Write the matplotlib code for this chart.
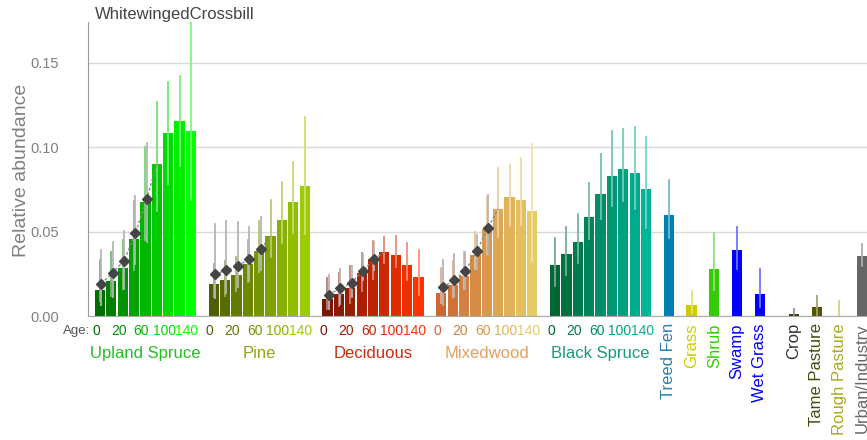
import matplotlib
matplotlib.use("Agg")
import matplotlib.pyplot as plt
import matplotlib.colors as mcolors
import numpy as np

plt.rcParams['font.family'] = ['Liberation Sans', 'DejaVu Sans']

######
# data
######
title = "WhitewingedCrossbill"
age_labels = ['0', '20', '60', '100', '140']
age_idx = [0, 2, 4, 6, 8]

groups = ['Upland Spruce', 'Pine', 'Deciduous', 'Mixedwood', 'Black Spruce']

upland = [0.0154, 0.0209, 0.0285, 0.0456, 0.0674, 0.0903, 0.1085, 0.1157, 0.1095]
upland_lo = [0.009, 0.012, 0.016, 0.027, 0.045, 0.062, 0.078, 0.089, 0.069]
upland_hi = [0.033, 0.038, 0.045, 0.068, 0.100, 0.127, 0.139, 0.142, 0.180]

pine = [0.0188, 0.0213, 0.0245, 0.0308, 0.0384, 0.0474, 0.0569, 0.0674, 0.0771]
pine_lo = [0.011, 0.012, 0.015, 0.020, 0.026, 0.035, 0.043, 0.049, 0.0486]
pine_hi = [0.0307, 0.0326, 0.035, 0.045, 0.0563, 0.0688, 0.0797, 0.0915, 0.1178]

decid = [0.0099, 0.0132, 0.0168, 0.0253, 0.0336, 0.0378, 0.036, 0.0304, 0.0229]
decid_lo = [0.004, 0.006, 0.008, 0.015, 0.022, 0.0312, 0.029, 0.0213, 0.0125]
decid_hi = [0.0223, 0.0253, 0.0298, 0.0372, 0.0445, 0.0467, 0.0474, 0.043, 0.039]

mixed = [0.0134, 0.0186, 0.0239, 0.0362, 0.0516, 0.0635, 0.0706, 0.069, 0.0621]
mixed_lo = [0.0075, 0.011, 0.016, 0.0277, 0.037, 0.0467, 0.0534, 0.054, 0.0328]
mixed_hi = [0.0283, 0.0326, 0.038, 0.050, 0.0708, 0.088, 0.0898, 0.0935, 0.102]

bspruce = [0.030, 0.0366, 0.0439, 0.0587, 0.0724, 0.0828, 0.0872, 0.0846, 0.0755]
bspruce_lo = [0.0178, 0.0243, 0.0312, 0.0455, 0.0573, 0.0652, 0.068, 0.0633, 0.052]
bspruce_hi = [0.0465, 0.0526, 0.0605, 0.079, 0.096, 0.1095, 0.1107, 0.1119, 0.106]

# diamonds (young stands), first 5 ages of the 4 first groups
upland_d = [0.0192, 0.0257, 0.0326, 0.0492, 0.0694]
upland_d_lo = [0.0065, 0.011, 0.016, 0.031, 0.044]
upland_d_hi = [0.039, 0.044, 0.0506, 0.071, 0.1026]
pine_d = [0.0247, 0.0273, 0.0297, 0.0338, 0.0395]
pine_d_lo = [0.0105, 0.0138, 0.017, 0.021, 0.027]
pine_d_hi = [0.0544, 0.0563, 0.0556, 0.053, 0.0585]
decid_d = [0.0126, 0.0164, 0.0198, 0.0269, 0.0338]
decid_d_lo = [0.004, 0.007, 0.011, 0.0212, 0.027]
decid_d_hi = [0.0243, 0.0279, 0.0297, 0.037, 0.044]
mixed_d = [0.017, 0.0213, 0.0267, 0.0385, 0.0524]
mixed_d_lo = [0.0067, 0.011, 0.016, 0.0277, 0.036]
mixed_d_hi = [0.0332, 0.0368, 0.0381, 0.048, 0.0718]

others = ['Treed Fen', 'Grass', 'Shrub', 'Swamp', 'Wet Grass', 'Crop',
          'Tame Pasture', 'Rough Pasture', 'Urban/Industry']
others_val = [0.0599, 0.0063, 0.0279, 0.039, 0.0129, 0.0012, 0.0053, 0.0, 0.0356]
others_lo = [0.0465, 0.0016, 0.0154, 0.028, 0.0055, 0.0, 0.0, 0.0, 0.0297]
others_hi = [0.0807, 0.0148, 0.049, 0.053, 0.0277, 0.004, 0.012, 0.0089, 0.0427]

######
# style
######
grad = [('#006e00', '#00ff00'), ('#4f5f00', '#9acc00'), ('#7a1500', '#ff3300'),
        ('#cc6633', '#e6cc66'), ('#006633', '#00b49a')]
group_lab_col = ['#22c022', '#8aaa10', '#cc2a10', '#e0a060', '#1a9a7a']
others_col = ['#0080b0', '#cccc00', '#33cc00', '#0000ff', '#0000ff', '#3a3a20',
              '#555500', '#aaaa22', '#666666']
others_lab_col = ['#2a80b0', '#cccc00', '#33cc00', '#0000ff', '#0000ff', '#333333',
                  '#4a4a10', '#aaaa22', '#666666']
others_pos = [50, 52, 54, 56, 58, 61, 63, 65, 67]


def lighter(c, f=0.45):
    c = np.array(mcolors.to_rgb(c))
    return tuple(c + (1 - c)*f)


def ramp(c1, c2, n=9):
    a = np.array(mcolors.to_rgb(c1))
    b = np.array(mcolors.to_rgb(c2))
    return [tuple(a + (b - a)*t) for t in np.linspace(0, 1, n)]


fig = plt.figure(figsize=(8.67, 4.40), dpi=100)
ax = fig.add_axes([88/867, 1 - 316/440, 1 - 88/867, 294/440])

series = [(upland, upland_lo, upland_hi), (pine, pine_lo, pine_hi),
          (decid, decid_lo, decid_hi), (mixed, mixed_lo, mixed_hi),
          (bspruce, bspruce_lo, bspruce_hi)]
diam = [(upland_d, upland_d_lo, upland_d_hi), (pine_d, pine_d_lo, pine_d_hi),
        (decid_d, decid_d_lo, decid_d_hi), (mixed_d, mixed_d_lo, mixed_d_hi)]

xf = ax.get_xaxis_transform()
bw = 0.9
for g, (vals, lo, hi) in enumerate(series):
    x = np.arange(9) + g*10
    cols = ramp(*grad[g])
    ax.bar(x, vals, width=bw, color=cols, zorder=2)
    for k in range(9):
        ax.plot([x[k], x[k]], [lo[k], hi[k]], color=lighter(cols[k]), lw=1.3, zorder=3)
    if g < 4:
        dv, dlo, dhi = diam[g]
        xd = x[:5] + 0.12
        for k in range(5):
            ax.plot([xd[k], xd[k]], [dlo[k], dhi[k]], color='#b5b5b5', lw=1.3, zorder=4)
        ax.plot(list(xd) + [x[5]], list(dv) + [vals[5]], color='#888888', lw=1,
                ls=(0, (2, 1.5)), zorder=5)
        ax.plot(xd, dv, ls='none', marker='D', ms=5.5, color='#454545', zorder=6)
    for k, lab in zip(age_idx, age_labels):
        ax.text(x[k] - 0.35, -0.051, lab, transform=xf, ha='center', va='center',
                fontsize=10, color=cols[k])
    ax.text(x[4], -0.129, groups[g], transform=xf, ha='center', va='center',
            fontsize=12, color=group_lab_col[g])

ax.text(-0.85, -0.051, 'Age:', transform=xf, ha='right', va='center',
        fontsize=9.5, color='#555555')

ax.bar(others_pos, others_val, width=bw, color=others_col, zorder=2)
for k in range(len(others)):
    ax.plot([others_pos[k], others_pos[k]], [others_lo[k], others_hi[k]],
            color=lighter(others_col[k]), lw=1.3, zorder=3)
    ax.text(others_pos[k], -0.024, others[k], transform=xf, rotation=90,
            ha='center', va='top', fontsize=12, color=others_lab_col[k])

ax.set_xlim(-1.05, 67.42)
ax.set_ylim(0, 0.1743)
ax.set_yticks([0, 0.05, 0.10, 0.15])
ax.set_yticklabels(['0.00', '0.05', '0.10', '0.15'])
ax.set_xticks([])
ax.tick_params(axis='y', length=0, pad=21, labelsize=10.5, labelcolor='#808080')
ax.grid(axis='y', color='#d9d9d9', lw=1, zorder=0)
ax.set_axisbelow(True)
for s in ['top', 'right']:
    ax.spines[s].set_visible(False)
ax.spines['left'].set_color('#999999')
ax.spines['bottom'].set_color('#aaaaaa')

fig.text(22/867, 1 - 170/440, 'Relative abundance', rotation=90, ha='center',
         va='center', fontsize=14, color='#808080')
fig.text(95/867, 1 - 15/440, title, ha='left', va='center', fontsize=12,
         color='#444444')

fig.savefig('out.png', dpi=100)
